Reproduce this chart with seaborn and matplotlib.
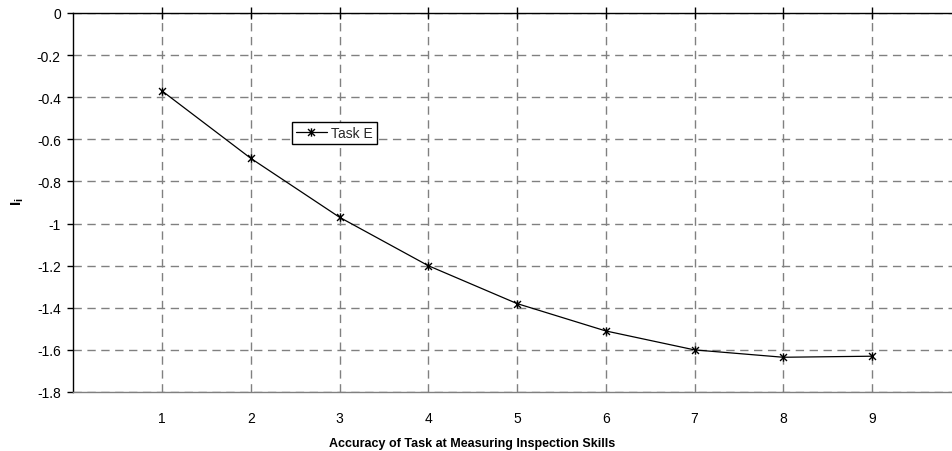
import matplotlib
matplotlib.use("Agg")
import matplotlib.pyplot as plt
from matplotlib.path import Path
import seaborn as sns
import pandas as pd

# Accuracy levels and the corresponding I_i values for Task E
accuracy = [1, 2, 3, 4, 5, 6, 7, 8, 9]
task_e = [-0.37, -0.69, -0.97, -1.20, -1.38, -1.51, -1.60, -1.635, -1.63]
y_ticks = [0, -0.2, -0.4, -0.6, -0.8, -1, -1.2, -1.4, -1.6, -1.8]
y_tick_labels = ["0", "-0.2", "-0.4", "-0.6", "-0.8", "-1", "-1.2", "-1.4", "-1.6", "-1.8"]

sns.set_theme(style="white")
plt.rcParams["font.family"] = ["Liberation Sans", "DejaVu Sans"]
plt.rcParams["mathtext.fontset"] = "custom"
plt.rcParams["mathtext.rm"] = "Liberation Sans"
plt.rcParams["mathtext.bf"] = "Liberation Sans:bold"
plt.rcParams["mathtext.it"] = "Liberation Sans:italic"

df = pd.DataFrame({"Accuracy": accuracy, "Task E": task_e})

# star marker: an X crossed by a vertical bar
star = Path(
    [(-1, -1), (1, 1), (-1, 1), (1, -1), (0, -1.2), (0, 1.2)],
    [Path.MOVETO, Path.LINETO, Path.MOVETO, Path.LINETO, Path.MOVETO, Path.LINETO],
)

fig = plt.figure(figsize=(9.52, 4.52), dpi=100)
ax = fig.add_axes([73.25 / 952, 59 / 452, 887.5 / 952, 379 / 452])

sns.lineplot(data=df, x="Accuracy", y="Task E", ax=ax, color="black",
             linewidth=0.9, marker=star, markersize=6, markeredgewidth=1.0,
             markeredgecolor="black", label="Task E")

ax.set_xlim(0, 10)
ax.set_ylim(-1.8, 0)
ax.set_xticks(accuracy)
ax.set_xticklabels([str(a) for a in accuracy])
ax.set_yticks(y_ticks)
ax.set_yticklabels(y_tick_labels)

ax.grid(True, color="#808080", linestyle=(0, (6, 4)), linewidth=1.0)
ax.set_axisbelow(True)

for side in ["top", "left"]:
    ax.spines[side].set_visible(True)
    ax.spines[side].set_color("black")
    ax.spines[side].set_linewidth(1.0)
ax.spines["bottom"].set_color("#808080")
ax.spines["bottom"].set_linewidth(1.0)
ax.spines["right"].set_visible(False)

ax.tick_params(axis="y", which="major", left=True, direction="out", length=4,
               width=1, color="black", labelsize=10, pad=5, labelcolor="black")
ax.tick_params(axis="x", which="major", bottom=False, top=True, direction="inout",
               length=8, width=1, color="black", labelsize=10, pad=10,
               labelbottom=True, labeltop=False, labelcolor="black")

ax.set_xlabel("Accuracy of Task at Measuring Inspection Skills",
              fontsize=9, fontweight="bold", color="black")
ax.xaxis.set_label_coords(0.449, -0.118)
ax.set_ylabel(r"$\mathbf{I}_{\mathbf{i}}$", fontsize=11, color="black")
ax.yaxis.set_label_coords(-0.053, 0.504)

leg = ax.legend(loc="upper left", bbox_to_anchor=(0.2465, 0.713), frameon=True,
                fancybox=False, edgecolor="black", fontsize=10, handlelength=2.2,
                handletextpad=0.3, borderpad=0.3, borderaxespad=0)
leg.get_frame().set_linewidth(1.0)
leg.get_frame().set_facecolor("white")
leg.get_frame().set_alpha(1)

fig.savefig("out.png", dpi=100)
